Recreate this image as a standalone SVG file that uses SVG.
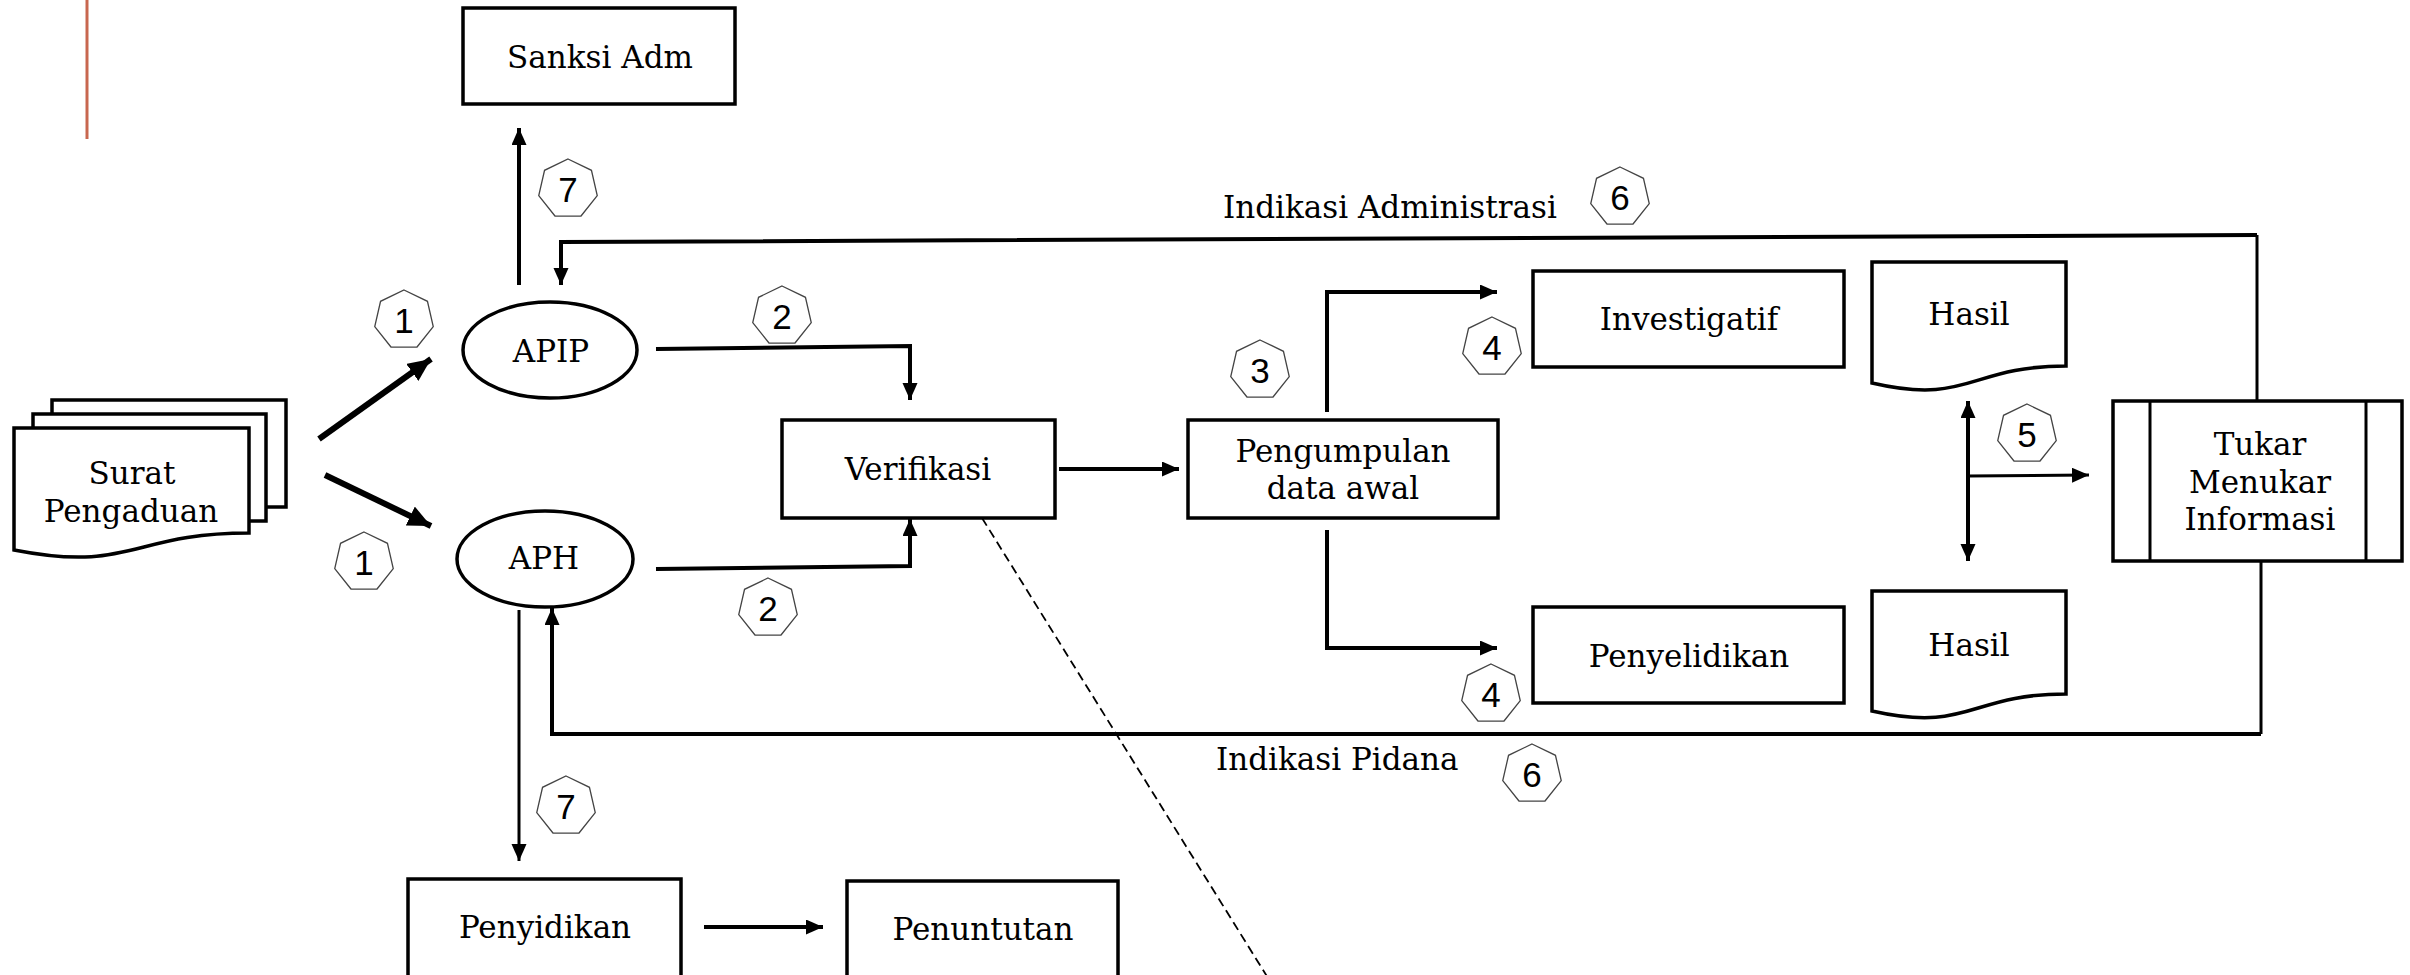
<svg xmlns="http://www.w3.org/2000/svg" width="2410" height="975" viewBox="0 0 2410 975">
<style>
.bx{fill:#fff;stroke:#000;stroke-width:3.5}
.t{font-family:"DejaVu Serif","Liberation Serif",serif;font-size:31px;fill:#000;text-anchor:middle}
.tl{font-family:"DejaVu Serif","Liberation Serif",serif;font-size:31px;fill:#000}
.hx{fill:#fff;stroke:#444;stroke-width:1.3}
.n{font-family:"Liberation Sans","DejaVu Sans",sans-serif;font-size:35px;fill:#000;text-anchor:middle}
.c{fill:none;stroke:#000;stroke-width:4}
.c3{fill:none;stroke:#000;stroke-width:3}
.ct{fill:none;stroke:#000;stroke-width:6}
</style>
<defs>
<marker id="ah" markerUnits="userSpaceOnUse" markerWidth="18" markerHeight="16" refX="17" refY="7.5" orient="auto"><path d="M0,0 L17,7.5 L0,15 Z" fill="#000"/></marker>
<marker id="ahL" markerUnits="userSpaceOnUse" markerWidth="24" markerHeight="22" refX="23" refY="10.5" orient="auto"><path d="M0,0 L23,10.5 L0,21 Z" fill="#000"/></marker>
<polygon id="hep" points="0,-30 23.45,-18.71 29.25,6.68 13.02,27.03 -13.02,27.03 -29.25,6.68 -23.45,-18.71"/>
</defs>
<rect width="2410" height="975" fill="#fff"/>
<line x1="87" y1="0" x2="87" y2="139" stroke="#c8674f" stroke-width="3"/>

<g id="connectors">
<line class="ct" x1="319" y1="439" x2="431" y2="359" marker-end="url(#ahL)"/>
<line class="ct" x1="325" y1="475" x2="431" y2="526" marker-end="url(#ahL)"/>
<line class="c" x1="519" y1="285" x2="519" y2="128" marker-end="url(#ah)"/>
<path class="c3" d="M2257,401 V235"/>
<path class="c" d="M2257,235 L561,242 V285" marker-end="url(#ah)"/>
<path class="c" d="M656,349 L910,346 V400" marker-end="url(#ah)"/>
<path class="c" d="M656,569 L910,566 V519" marker-end="url(#ah)"/>
<line class="c" x1="1059" y1="469" x2="1179" y2="469" marker-end="url(#ah)"/>
<path class="c" d="M1327,412 V292 H1497" marker-end="url(#ah)"/>
<path class="c" d="M1327,530 V648 H1497" marker-end="url(#ah)"/>
<line class="c" x1="1968" y1="480" x2="1968" y2="401" marker-end="url(#ah)"/>
<line class="c" x1="1968" y1="470" x2="1968" y2="561" marker-end="url(#ah)"/>
<line class="c3" x1="1968" y1="476" x2="2089" y2="475" marker-end="url(#ah)"/>
<path class="c3" d="M2261,561 V734"/>
<path class="c" d="M2261,734 H552 V608" marker-end="url(#ah)"/>
<line class="c3" x1="519" y1="610" x2="519" y2="861" marker-end="url(#ah)"/>
<line class="c" x1="704" y1="927" x2="823" y2="927" marker-end="url(#ah)"/>
<line x1="982" y1="518" x2="1268" y2="978" stroke="#000" stroke-width="1.8" stroke-dasharray="9,5"/>
</g>

<g id="surat-pengaduan">
<rect class="bx" x="52" y="400" width="234" height="107"/>
<rect class="bx" x="33" y="414" width="233" height="107"/>
<path class="bx" d="M14,428 H249 V533 C131.5,533 131.5,573 14,550 Z"/>
<text class="t" x="132" y="484">Surat</text>
<text class="t" x="131" y="522">Pengaduan</text>
</g>

<g id="sanksi-adm">
<rect class="bx" x="463" y="8" width="272" height="96"/>
<text class="t" x="600" y="68">Sanksi Adm</text>
</g>

<g id="apip">
<ellipse class="bx" cx="550" cy="350" rx="87" ry="48"/>
<text class="t" x="551" y="362">APIP</text>
</g>

<g id="aph">
<ellipse class="bx" cx="545" cy="559" rx="88" ry="48"/>
<text class="t" x="544" y="569">APH</text>
</g>

<g id="verifikasi">
<rect class="bx" x="782" y="420" width="273" height="98"/>
<text class="t" x="918" y="480">Verifikasi</text>
</g>

<g id="pengumpulan">
<rect class="bx" x="1188" y="420" width="310" height="98"/>
<text class="t" x="1343" y="462">Pengumpulan</text>
<text class="t" x="1343" y="499">data awal</text>
</g>

<g id="investigatif">
<rect class="bx" x="1533" y="271" width="311" height="96"/>
<text class="t" x="1689" y="330">Investigatif</text>
</g>

<g id="hasil-1">
<path class="bx" d="M1872,262 H2066 V366 C1969,366 1969,405.6 1872,383 Z"/>
<text class="t" x="1969" y="325">Hasil</text>
</g>

<g id="penyelidikan">
<rect class="bx" x="1533" y="607" width="311" height="96"/>
<text class="t" x="1689" y="667">Penyelidikan</text>
</g>

<g id="hasil-2">
<path class="bx" d="M1872,591 H2066 V694 C1969,694 1969,733 1872,711 Z"/>
<text class="t" x="1969" y="656">Hasil</text>
</g>

<g id="tukar-menukar">
<rect class="bx" x="2113" y="401" width="289" height="160"/>
<line x1="2150" y1="401" x2="2150" y2="561" stroke="#000" stroke-width="3"/>
<line x1="2366" y1="401" x2="2366" y2="561" stroke="#000" stroke-width="3"/>
<text class="t" x="2260" y="455">Tukar</text>
<text class="t" x="2260" y="493">Menukar</text>
<text class="t" x="2260" y="530">Informasi</text>
</g>

<g id="penyidikan">
<rect class="bx" x="408" y="879" width="273" height="110"/>
<text class="t" x="545" y="938">Penyidikan</text>
</g>

<g id="penuntutan">
<rect class="bx" x="847" y="881" width="271" height="110"/>
<text class="t" x="983" y="940">Penuntutan</text>
</g>

<g id="label-admin">
<text class="tl" x="1223" y="218">Indikasi Administrasi</text>
</g>
<g id="label-pidana">
<text class="tl" x="1216" y="770">Indikasi Pidana</text>
</g>

<g id="badge-7a"><use href="#hep" class="hx" x="568" y="189"/><text class="n" x="568" y="202">7</text></g>
<g id="badge-1a"><use href="#hep" class="hx" x="404" y="320"/><text class="n" x="404" y="333">1</text></g>
<g id="badge-2a"><use href="#hep" class="hx" x="782" y="316"/><text class="n" x="782" y="329">2</text></g>
<g id="badge-1b"><use href="#hep" class="hx" x="364" y="562"/><text class="n" x="364" y="575">1</text></g>
<g id="badge-2b"><use href="#hep" class="hx" x="768" y="608"/><text class="n" x="768" y="621">2</text></g>
<g id="badge-3"><use href="#hep" class="hx" x="1260" y="370"/><text class="n" x="1260" y="383">3</text></g>
<g id="badge-4a"><use href="#hep" class="hx" x="1492" y="347"/><text class="n" x="1492" y="360">4</text></g>
<g id="badge-4b"><use href="#hep" class="hx" x="1491" y="694"/><text class="n" x="1491" y="707">4</text></g>
<g id="badge-5"><use href="#hep" class="hx" x="2027" y="434"/><text class="n" x="2027" y="447">5</text></g>
<g id="badge-6a"><use href="#hep" class="hx" x="1620" y="197"/><text class="n" x="1620" y="210">6</text></g>
<g id="badge-6b"><use href="#hep" class="hx" x="1532" y="774"/><text class="n" x="1532" y="787">6</text></g>
<g id="badge-7b"><use href="#hep" class="hx" x="566" y="806"/><text class="n" x="566" y="819">7</text></g>
</svg>
